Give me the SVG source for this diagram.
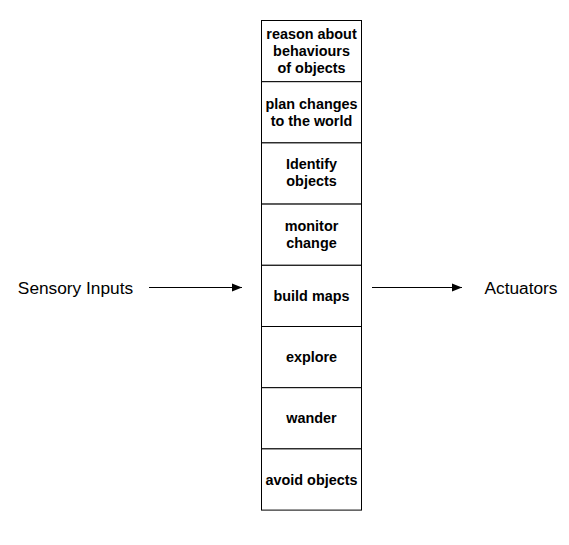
<svg xmlns="http://www.w3.org/2000/svg" width="569" height="545" viewBox="0 0 569 545">
<style>
.box{fill:#fff;stroke:#000;stroke-width:1}
.t{font-family:"Liberation Sans",Arial,sans-serif;font-size:14.4px;font-weight:bold;fill:#000;text-anchor:middle}
.l{font-family:"Liberation Sans",Arial,sans-serif;font-size:17.3px;fill:#000;text-anchor:middle}
.c{stroke:#000;stroke-width:1;fill:none}
</style>
<defs>
<marker id="ah" viewBox="0 0 10 10" refX="10" refY="5" markerWidth="10" markerHeight="10" markerUnits="userSpaceOnUse" orient="auto">
<path d="M0,1 L10,5 L0,9 Z" fill="#000"/>
</marker>
</defs>
<rect width="569" height="545" fill="#fff"/>
<g id="n1"><rect class="box" x="261.5" y="20.5" width="100" height="61.2"/>
<text class="t" x="311.5" y="38.5">reason about</text><text class="t" x="311.5" y="55.5">behaviours</text><text class="t" x="311.5" y="72.5">of objects</text></g>
<g id="n2"><rect class="box" x="261.5" y="81.7" width="100" height="61.2"/>
<text class="t" x="311.5" y="108.5">plan changes</text><text class="t" x="311.5" y="125.5">to the world</text></g>
<g id="n3"><rect class="box" x="261.5" y="142.9" width="100" height="61.2"/>
<text class="t" x="311.5" y="169">Identify</text><text class="t" x="311.5" y="186">objects</text></g>
<g id="n4"><rect class="box" x="261.5" y="204.1" width="100" height="61.2"/>
<text class="t" x="311.5" y="230.5">monitor</text><text class="t" x="311.5" y="247.5">change</text></g>
<g id="n5"><rect class="box" x="261.5" y="265.3" width="100" height="61.2"/>
<text class="t" x="311.5" y="300.5">build maps</text></g>
<g id="n6"><rect class="box" x="261.5" y="326.5" width="100" height="61.2"/>
<text class="t" x="311.5" y="361.5">explore</text></g>
<g id="n7"><rect class="box" x="261.5" y="387.7" width="100" height="61.2"/>
<text class="t" x="311.5" y="423">wander</text></g>
<g id="n8"><rect class="box" x="261.5" y="448.9" width="100" height="61.2"/>
<text class="t" x="311.5" y="484.5">avoid objects</text></g>
<g id="sensory"><text class="l" x="75.5" y="293.5">Sensory Inputs</text></g>
<g id="actuators"><text class="l" x="521" y="293.5">Actuators</text></g>
<g id="connectors">
<line class="c" x1="149" y1="287.5" x2="242" y2="287.5" marker-end="url(#ah)"/>
<line class="c" x1="372" y1="287.5" x2="462" y2="287.5" marker-end="url(#ah)"/>
</g>
</svg>
